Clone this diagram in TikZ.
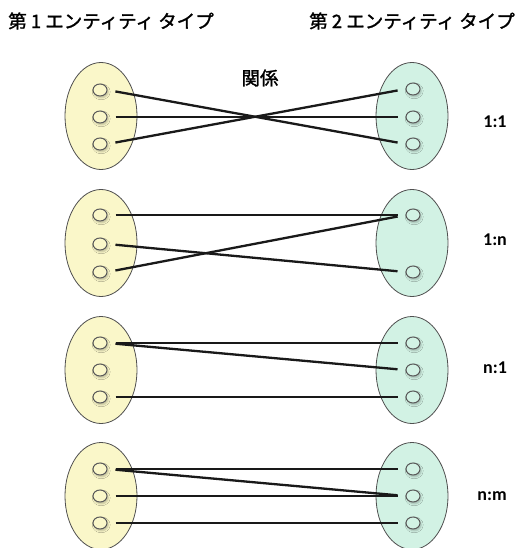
\documentclass[tikz,border=0pt]{standalone}
\usepackage{fontspec}
\setmainfont{Carlito}
\newfontfamily\jp{Noto Sans CJK JP}[FakeBold=1.5]
\usetikzlibrary{shapes.geometric,shadows.blur}
\definecolor{ylw}{HTML}{FAF7C9}
\definecolor{grn}{HTML}{D2F2E4}
\definecolor{edgec}{HTML}{505050}
\begin{document}
\begin{tikzpicture}[x=1pt,y=-1pt,
  ent/.style={ellipse, draw=edgec, line width=0.8pt, minimum width=72pt, minimum height=107pt, inner sep=0pt},
  yent/.style={ent, fill=ylw},
  gent/.style={ent, fill=grn},
  dot/.style={ellipse, draw=black!65, line width=1pt, minimum width=14pt, minimum height=12pt, inner sep=0pt, blur shadow={shadow xshift=1.2pt, shadow yshift=-1.8pt, shadow opacity=25, shadow blur steps=4}},
  ydot/.style={dot, fill=ylw},
  gdot/.style={dot, fill=grn},
  link/.style={line width=2.3pt, black!90, shorten <=8pt, shorten >=8pt},
  ttl/.style={font=\jp\fontsize{18.5}{20}\selectfont, inner sep=0pt},
  card/.style={font=\bfseries\fontsize{18}{20}\selectfont, inner sep=0pt}]
\useasboundingbox (0,0) rectangle (520,548);
\fill[white] (0,0) rectangle (520,548);
% titles
\node[ttl] (t1) at (111,21) {第 1 エンティティ タイプ};
\node[ttl] (t2) at (412,21) {第 2 エンティティ タイプ};
\node[ttl] (rel) at (260,78) {関係};
% row 1
\node[yent] (e1l) at (101,116) {};
\node[gent] (e1r) at (412,116) {};
\node[ydot] (a1) at (100,90) {};
\node[ydot] (a2) at (100,117) {};
\node[ydot] (a3) at (100,144) {};
\node[gdot] (b1) at (413,89) {};
\node[gdot] (b2) at (413,117) {};
\node[gdot] (b3) at (413,144) {};
\draw[link] (a1.east) -- (b3.west);
\draw[link] (a2.east) -- (b2.west);
\draw[link] (a3.east) -- (b1.west);
\node[card] (c1) at (495,122) {1:1};
% row 2
\node[yent] (e2l) at (101,243) {};
\node[gent] (e2r) at (412,243) {};
\node[ydot] (a4) at (100,215) {};
\node[ydot] (a5) at (100,244) {};
\node[ydot] (a6) at (100,272) {};
\node[gdot] (b4) at (413,215) {};
\node[gdot] (b5) at (413,272) {};
\draw[link] (a4.east) -- (b4.west);
\draw[link] (a5.east) -- (b5.west);
\draw[link] (a6.east) -- (b4.west);
\node[card] (c2) at (495,240) {1:n};
% row 3
\node[yent] (e3l) at (101,370) {};
\node[gent] (e3r) at (412,370) {};
\node[ydot] (a7) at (100,343) {};
\node[ydot] (a8) at (100,370) {};
\node[ydot] (a9) at (100,397) {};
\node[gdot] (b7) at (413,343) {};
\node[gdot] (b8) at (413,370) {};
\node[gdot] (b9) at (413,397) {};
\draw[link] (a7.east) -- (b7.west);
\draw[link] (a7.east) -- (b8.west);
\draw[link] (a9.east) -- (b9.west);
\node[card] (c3) at (495,368) {n:1};
% row 4
\node[yent] (e4l) at (101,496) {};
\node[gent] (e4r) at (412,496) {};
\node[ydot] (a10) at (100,469) {};
\node[ydot] (a11) at (100,496) {};
\node[ydot] (a12) at (100,523) {};
\node[gdot] (b10) at (413,469) {};
\node[gdot] (b11) at (413,496) {};
\node[gdot] (b12) at (413,523) {};
\draw[link] (a10.east) -- (b10.west);
\draw[link] (a10.east) -- (b11.west);
\draw[link] (a11.east) -- (b11.west);
\draw[link] (a12.east) -- (b12.west);
\node[card] (c4) at (492,496) {n:m};
\end{tikzpicture}
\end{document}
